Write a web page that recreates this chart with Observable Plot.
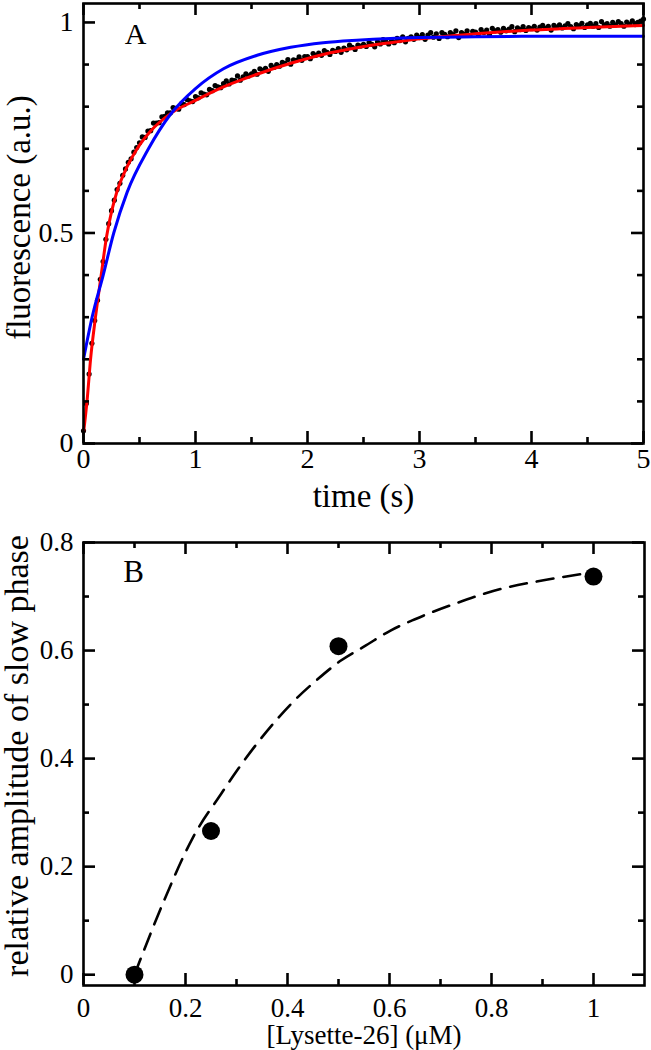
<!DOCTYPE html>
<html><head><meta charset="utf-8">
<script src="https://cdn.jsdelivr.net/npm/d3@7"></script>
<script src="https://cdn.jsdelivr.net/npm/@observablehq/plot@0.6"></script>
<style>
body{margin:0;background:#fff}
#chart svg{display:block}
</style>
</head><body><div id="chart"></div>
<script>
// ---------- Panel A data ----------
const timeStep = 0.025; // s between samples
const fluorescence = [
0.030,0.095,0.165,0.238,0.292,0.340,0.390,0.432,0.485,0.522,
0.553,0.578,0.603,0.618,0.637,0.652,0.668,0.676,0.692,0.703,
0.714,0.728,0.727,0.742,0.743,0.761,0.761,0.762,0.776,0.777,
0.785,0.785,0.798,0.796,0.794,0.807,0.805,0.817,0.814,0.812,
0.824,0.821,0.833,0.830,0.828,0.841,0.838,0.850,0.847,0.845,
0.855,0.861,0.854,0.863,0.862,0.873,0.863,0.871,0.878,0.873,
0.878,0.884,0.877,0.890,0.886,0.891,0.884,0.898,0.893,0.900,
0.896,0.905,0.903,0.912,0.901,0.911,0.910,0.918,0.910,0.919,
0.919,0.914,0.926,0.922,0.927,0.922,0.933,0.929,0.924,0.934,
0.931,0.938,0.929,0.939,0.935,0.946,0.941,0.936,0.946,0.944,
0.948,0.943,0.953,0.948,0.942,0.954,0.949,0.959,0.954,0.949,
0.957,0.952,0.962,0.957,0.966,0.954,0.962,0.966,0.960,0.970,
0.964,0.971,0.960,0.970,0.976,0.965,0.973,0.962,0.976,0.972,
0.966,0.976,0.971,0.980,0.964,0.976,0.972,0.980,0.969,0.979,
0.977,0.972,0.983,0.976,0.982,0.971,0.986,0.980,0.983,0.977,
0.986,0.980,0.984,0.990,0.978,0.987,0.983,0.990,0.981,0.988,
0.985,0.991,0.982,0.989,0.993,0.986,0.991,0.982,0.993,0.989,
0.994,0.987,0.992,0.997,0.990,0.985,0.995,0.992,0.998,0.988,
0.994,0.998,0.991,0.997,0.988,1.002,0.994,0.997,0.991,1.000,
0.994,1.002,0.997,0.991,1.001,0.996,1.004,0.995,1.000,1.003,
1.008
];
const redFitTime = [0,0.033,0.063,0.107,0.158,0.205,0.25,0.295,0.385,0.479,0.6,0.78,1.0,1.25,1.55,1.85,2.14,2.44,2.74,3.0,3.5,4.0,4.5,5.0];
const redFitValue = [0.025,0.105,0.20,0.30,0.40,0.49,0.55,0.595,0.655,0.70,0.742,0.784,0.815,0.847,0.877,0.903,0.924,0.940,0.952,0.961,0.973,0.982,0.988,0.993];
const blueFitTime = [0,0.077,0.176,0.27,0.39,0.58,0.777,1.0,1.25,1.55,1.85,2.14,2.44,2.74,3.0,3.5,4.0,5.0];
const blueFitValue = [0.2,0.3,0.4,0.5,0.597,0.7,0.782,0.843,0.890,0.922,0.941,0.952,0.958,0.962,0.964,0.966,0.967,0.967];
const aXMajor = [0,1,2,3,4,5];
const aXMinor = [0.5,1.5,2.5,3.5,4.5];
const aYMajor = [0,0.5,1];
const aYMinor = [0.1,0.2,0.3,0.4,0.6,0.7,0.8,0.9];

// ---------- Panel B data ----------
const lysette = [0.1,0.25,0.5,1.0];
const slowAmp = [0.0,0.266,0.608,0.737];
const fitConc = [0.1,0.109,0.161,0.214,0.27,0.301,0.375,0.413,0.458,0.504,0.553,0.602,0.65,0.735,0.818,0.902,1.0];
const fitAmp  = [0.0,0.022,0.144,0.253,0.335,0.378,0.468,0.507,0.546,0.581,0.609,0.637,0.658,0.689,0.714,0.730,0.745];
const bXMajor = [0,0.2,0.4,0.6,0.8,1];
const bXMinor = [0.1,0.3,0.5,0.7,0.9];
const bYMajor = [0,0.2,0.4,0.6,0.8];
const bYMinor = [0.1,0.3,0.5,0.7];

const FONT = "'Liberation Serif','Times New Roman',serif";
const SW = 2.6, MAJ = 12, MIN = 6;

function tickMarks(xMaj, xMin, yMaj, yMin, FW, FH) {
  const o = {stroke: "black", strokeWidth: SW};
  return [
    Plot.tickX(xMaj, {...o, x: d => d, insetTop: FH - MAJ}),
    Plot.tickX(xMaj, {...o, x: d => d, insetBottom: FH - MAJ}),
    Plot.tickX(xMin, {...o, x: d => d, insetTop: FH - MIN}),
    Plot.tickX(xMin, {...o, x: d => d, insetBottom: FH - MIN}),
    Plot.tickY(yMaj, {...o, y: d => d, insetRight: FW - MAJ}),
    Plot.tickY(yMaj, {...o, y: d => d, insetLeft: FW - MAJ}),
    Plot.tickY(yMin, {...o, y: d => d, insetRight: FW - MIN}),
    Plot.tickY(yMin, {...o, y: d => d, insetLeft: FW - MIN})
  ];
}

// Panel A
const dataRows = fluorescence.map((f, i) => ({t: i * timeStep, f}));
const redRows = redFitTime.map((t, i) => ({t, f: redFitValue[i]}));
const blueRows = blueFitTime.map((t, i) => ({t, f: blueFitValue[i]}));
const A = {W: 651, H: 520, ml: 83, mr: 8, mt: 3, mb: 77};
const aFW = A.W - A.ml - A.mr, aFH = A.H - A.mt - A.mb;

const plotA = Plot.plot({
  width: A.W, height: A.H,
  marginLeft: A.ml, marginRight: A.mr, marginTop: A.mt, marginBottom: A.mb,
  style: {fontFamily: FONT, fontSize: "28px", color: "black", background: "white", overflow: "visible"},
  x: {domain: [0, 5]},
  y: {domain: [0, 1.045]},
  marks: [
    Plot.dot(dataRows, {x: "t", y: "f", r: 2.6, fill: "black", stroke: "none"}),
    Plot.line(redRows, {x: "t", y: "f", stroke: "#ff0000", strokeWidth: 3, curve: "monotone-x"}),
    Plot.line(blueRows, {x: "t", y: "f", stroke: "#0000ff", strokeWidth: 3, curve: "monotone-x"}),
    ...tickMarks(aXMajor, aXMinor, aYMajor, aYMinor, aFW, aFH),
    Plot.frame({stroke: "black", strokeWidth: SW}),
    Plot.axisX(aXMajor, {tickSize: 0, tickPadding: 5, fontSize: 28, tickFormat: d => String(d), label: null}),
    Plot.axisY(aYMajor, {tickSize: 0, tickPadding: 10, fontSize: 28, tickFormat: d => String(d), label: null}),
    Plot.text(["A"], {frameAnchor: "top-left", textAnchor: "middle", lineAnchor: "middle", dx: 52, dy: 31, fontSize: 30}),
    Plot.text(["time (s)"], {frameAnchor: "bottom", textAnchor: "middle", lineAnchor: "middle", dy: 53, fontSize: 33}),
    Plot.text(["fluorescence (a.u.)"], {frameAnchor: "left", textAnchor: "middle", lineAnchor: "middle", dx: -64, dy: -6, rotate: -90, fontSize: 33})
  ]
});

// Panel B
const pointRows = lysette.map((c, i) => ({c, a: slowAmp[i]}));
const fitRows = fitConc.map((c, i) => ({c, a: fitAmp[i]}));
const B = {W: 651, H: 530, ml: 83, mr: 7, mt: 22, mb: 65};
const bFW = B.W - B.ml - B.mr, bFH = B.H - B.mt - B.mb;

const plotB = Plot.plot({
  width: B.W, height: B.H,
  marginLeft: B.ml, marginRight: B.mr, marginTop: B.mt, marginBottom: B.mb,
  style: {fontFamily: FONT, fontSize: "27px", color: "black", background: "white", overflow: "visible"},
  x: {domain: [0, 1.1]},
  y: {domain: [-0.02, 0.8]},
  marks: [
    Plot.line(fitRows, {x: "c", y: "a", stroke: "black", strokeWidth: 2.6, strokeDasharray: "17,10", curve: "monotone-x"}),
    Plot.dot(pointRows, {x: "c", y: "a", r: 9, fill: "black", stroke: "none"}),
    ...tickMarks(bXMajor, bXMinor, bYMajor, bYMinor, bFW, bFH),
    Plot.frame({stroke: "black", strokeWidth: SW}),
    Plot.axisX(bXMajor, {tickSize: 0, tickPadding: 12, fontSize: 27, tickFormat: d => String(d), label: null}),
    Plot.axisY(bYMajor, {tickSize: 0, tickPadding: 10, fontSize: 27, tickFormat: d => String(d), label: null}),
    Plot.text(["B"], {frameAnchor: "top-left", textAnchor: "middle", lineAnchor: "middle", dx: 50, dy: 30, fontSize: 31}),
    Plot.text(["[Lysette-26] (\u03bcM)"], {frameAnchor: "bottom", textAnchor: "middle", lineAnchor: "middle", dy: 50, fontSize: 27}),
    Plot.text(["relative amplitude of slow phase"], {frameAnchor: "left", textAnchor: "middle", lineAnchor: "middle", dx: -66, dy: -8, rotate: -90, fontSize: 34})
  ]
});

const root = document.getElementById("chart");
root.appendChild(plotA);
root.appendChild(plotB);
</script>
</body></html>
